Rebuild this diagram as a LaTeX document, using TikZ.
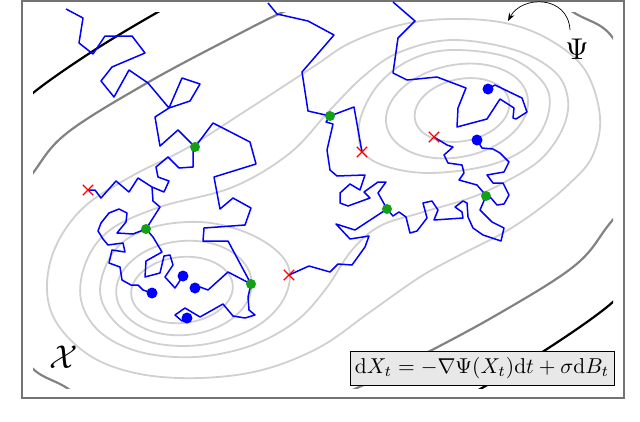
\RequirePackage{fix-cm}
\documentclass[tikz,border=0pt]{standalone}
\usetikzlibrary{arrows.meta,shapes.misc}
\definecolor{lightc}{RGB}{208,208,208}
\definecolor{darkc}{RGB}{130,130,130}
\definecolor{dotgreen}{RGB}{20,160,20}
\definecolor{framec}{RGB}{115,115,115}
\definecolor{boxfill}{RGB}{232,232,232}
\begin{document}
\begin{tikzpicture}[x=1pt,y=-1pt,
  contour/.style={draw=lightc, line width=1.8pt},
  dcontour/.style={draw=darkc, line width=2.2pt},
  bcontour/.style={draw=black, line width=2.2pt},
  walk/.style={draw=blue, line width=1.5pt, line join=round},
  gdot/.style={circle, fill=dotgreen, inner sep=0pt, minimum size=10pt},
  bdot/.style={circle, fill=blue, inner sep=0pt, minimum size=11pt},
  xmark/.style={cross out, draw=red, line width=1.3pt, inner sep=0pt, minimum size=9pt},
  lbl/.style={inner sep=0pt}]
\useasboundingbox (0,0) rectangle (640,421);
% ---------- level sets ----------
\begin{scope}
\clip (33,12) rectangle (613,388);
% left well
\draw[contour, shift={(182,290)}, rotate=6] (0,0) ellipse [x radius=51pt, y radius=33pt];
\draw[contour, shift={(184,288)}, rotate=6] (0,0) ellipse [x radius=68pt, y radius=47pt];
\draw[contour] plot[smooth cycle, tension=0.6] coordinates {
 (100,290) (115,250) (150,228) (200,222) (245,232) (278,252) (290,275) (280,305)
 (250,330) (200,345) (150,342) (115,322)};
% right well
\draw[contour, shift={(462,110)}, rotate=12] (0,0) ellipse [x radius=48pt, y radius=31pt];
\draw[contour, shift={(457,111)}, rotate=12] (0,0) ellipse [x radius=72pt, y radius=46pt];
\draw[contour] plot[smooth cycle, tension=0.6] coordinates {
 (452,50) (510,58) (545,85) (548,115) (530,145) (490,165) (430,173) (385,166)
 (362,150) (360,120) (378,85) (410,60)};
% inner peanut
\draw[contour] plot[smooth cycle, tension=0.6] coordinates {
 (452,40) (515,50) (555,72) (568,100) (562,130) (540,160) (505,182) (470,198)
 (420,213) (380,226) (352,250) (325,290) (295,322) (250,346) (195,357) (140,352)
 (100,332) (81,300) (86,262) (110,230) (160,207) (233,187) (290,153) (330,110)
 (365,75) (400,52)};
% outer peanut
\draw[contour] plot[smooth cycle, tension=0.6] coordinates {
 (450,19) (505,23) (550,40) (585,70) (600,117) (592,157) (568,185) (535,212)
 (503,233) (460,255) (420,277) (370,312) (320,347) (262,370) (200,378) (140,374)
 (92,357) (58,325) (47,290) (55,248) (83,208) (130,177) (187,148) (247,110)
 (313,67) (350,43) (400,25)};
% dark grey level
\draw[dcontour] plot[smooth cycle, tension=0.6] coordinates {
 (5,215) (33,173) (67,133) (147,83) (233,37) (283,12) (340,-12) (430,-30)
 (520,-22) (573,12) (613,38) (645,110)
 (635,185) (607,227) (573,267) (493,317) (407,363) (357,388) (300,412) (210,430)
 (120,422) (67,388) (27,362) (-5,290)};
% black level
\draw[bcontour] plot[smooth, tension=0.6] coordinates {(0,126) (33,93) (93,51) (158,12) (200,-10)};
\draw[bcontour] plot[smooth, tension=0.6] coordinates {(640,274) (607,307) (547,349) (482,388) (440,410)};
\end{scope}
% ---------- frame ----------
\draw[framec, line width=1.3pt] (22,1) rectangle (624,398);
% ---------- equation ----------
\draw[draw=black, fill=boxfill, line width=0.8pt] (350,351) rectangle (614,385);
\coordinate (eqc) at (482,368);
\node[lbl, scale=2.15] (eq) at (eqc) {$\mathrm{d}X_t = -\nabla\Psi(X_t)\mathrm{d}t + \sigma\mathrm{d}B_t$};
% ---------- points ----------
\coordinate (g1) at (195,147);
\coordinate (g2) at (146,229);
\coordinate (g3) at (251,284);
\coordinate (g4) at (330,116);
\coordinate (g5) at (387,209);
\coordinate (g6) at (486,196);
\coordinate (b1) at (152,293);
\coordinate (b2) at (183,276);
\coordinate (b3) at (195,288);
\coordinate (b4) at (187,318);
\coordinate (b5) at (488,89);
\coordinate (b6) at (477,140);
\coordinate (x1) at (88,190);
\coordinate (x2) at (289,275);
\coordinate (x3) at (362,152);
\coordinate (x4) at (434,137);
\coordinate (s1) at (66,9);
\coordinate (s2) at (268,3);
\coordinate (s3) at (393,2);
\coordinate (j1) at (152,187);
% ---------- walks ----------
\draw[walk] (s1) -- (83,18) -- (79,43) -- (93,54) -- (105,36) -- (132,36) -- (145,53) -- (112,67) -- (101,81) -- (114,97) -- (129,70) -- (148,83) -- (169,108) -- (182,78) -- (200,84) -- (190,101) -- (169,108) -- (155,117) -- (160,146) -- (178,130) -- (g1);
\draw[walk] (x1) -- (95,190) -- (101,198) -- (116,181) -- (129,192) -- (138,178) -- (j1) -- (164,192) -- (169,181) -- (158,177) -- (156,167) -- (168,157) -- (179,168) -- (193,167) -- (193,157) -- (193,151) -- (g1);
\draw[walk] (g1) -- (213,123) -- (250,142) -- (256,164) -- (214,177) -- (220,209) -- (233,198) -- (251,208) -- (245,225) -- (204,228) -- (203,241) -- (228,241) -- (g3);
\draw[walk] (j1) -- (153,201) -- (160,207) -- (g2) -- (133,234) -- (117,233) -- (126,222) -- (127,213) -- (119,209) -- (109,213) -- (101,223) -- (98,231) -- (103,239) -- (108,245) -- (123,243) -- (125,252) -- (112,250) -- (109,263) -- (120,267) -- (122,280) -- (131,285) -- (138,285) -- (143,290) -- (b1);
\draw[walk] (g2) -- (153,237) -- (162,252) -- (146,261) -- (145,277) -- (160,273) -- (164,256) -- (170,255) -- (173,265) -- (165,277) -- (175,288) -- (b2);
\draw[walk] (g3) -- (248,297) -- (249,310) -- (255,315) -- (245,318) -- (233,316) -- (223,304) -- (200,317) -- (185,308) -- (175,315) -- (182,321) -- (b4);
\draw[walk] (g3) -- (228,272) -- (208,290) -- (200,287) -- (b3);
\draw[walk] (s2) -- (277,14) -- (308,21) -- (334,35) -- (302,72) -- (308,111) -- (g4) -- (354,107) -- (x3);
\draw[walk] (g4) -- (326,122) -- (333,124) -- (327,150) -- (330,170) -- (337,176) -- (365,175) -- (360,190) -- (350,184) -- (340,193) -- (340,203) -- (348,206) -- (370,198) -- (364,192) -- (378,182) -- (386,182) -- (378,193) -- (g5);
\draw[walk] (x2) -- (309,266) -- (330,272) -- (338,264) -- (352,265) -- (365,247) -- (369,236) -- (350,239) -- (336,224) -- (355,230) -- (g5);
\draw[walk] (g5) -- (393,216) -- (399,212) -- (406,217) -- (410,233) -- (417,231) -- (427,218) -- (423,203) -- (432,201) -- (438,210) -- (434,220) -- (463,218) -- (462,212) -- (455,207) -- (463,201) -- (467,203) -- (468,217) -- (473,228) -- (483,235) -- (501,241) -- (504,228) -- (492,222) -- (480,210) -- (g6);
\draw[walk] (x4) -- (447,145) -- (453,147) -- (444,155) -- (448,163) -- (462,165) -- (464,173) -- (459,180) -- (477,185) -- (483,192) -- (g6);
\draw[walk] (b6) -- (482,148) -- (493,149) -- (500,153) -- (509,162) -- (504,172) -- (487,175) -- (493,183) -- (503,183) -- (509,195) -- (504,204) -- (497,205) -- (491,198) -- (g6);
\draw[walk] (s3) -- (415,21) -- (398,38) -- (393,73) -- (407,80) -- (437,77) -- (466,88) -- (458,108) -- (457,127) -- (487,119) -- (500,99) -- (514,108) -- (513,118) -- (516,119) -- (527,112) -- (522,98) -- (495,85) -- (b5);
% ---------- markers ----------
\foreach \p in {g1,g2,g3,g4,g5,g6} \node[gdot] (n\p) at (\p) {};
\foreach \p in {b1,b2,b3,b4,b5,b6} \node[bdot] (n\p) at (\p) {};
\foreach \p in {x1,x2,x3,x4} \node[xmark] (n\p) at (\p) {};
% ---------- labels ----------
\node[lbl, scale=3.0] (psi) at (577,49) {$\Psi$};
\coordinate (arrstart) at (570,30);
\coordinate (arrend) at (508,21);
\draw[line width=0.7pt, -{Stealth[length=8pt,width=6pt]}] (arrstart) .. controls (568,-5) and (522,-5) .. (arrend);
\node[lbl, scale=3.3] (calx) at (64,357) {$\mathcal{X}$};
\end{tikzpicture}
\end{document}
